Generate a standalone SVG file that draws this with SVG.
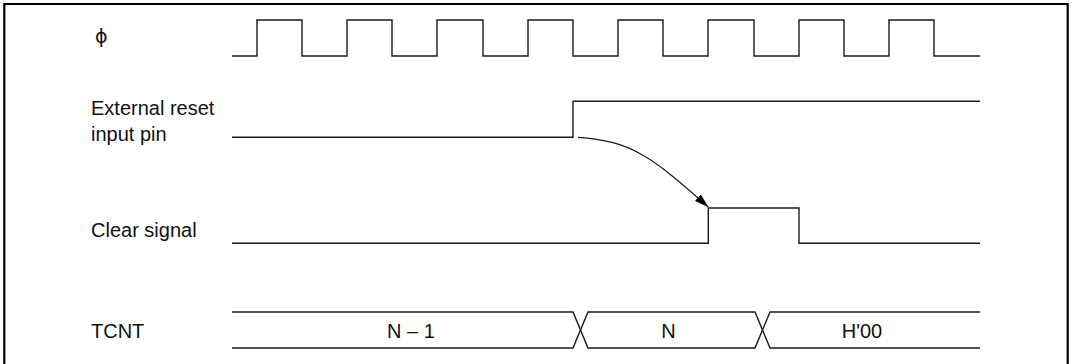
<svg xmlns="http://www.w3.org/2000/svg" width="1074" height="364" viewBox="0 0 1074 364">
<style>
.sig{fill:none;stroke:#1a1a1a;stroke-width:1.4;stroke-linejoin:miter}
.lbl{font-family:"Liberation Sans",Arial,sans-serif;font-size:20px;fill:#111}
.val{font-family:"Liberation Sans",Arial,sans-serif;font-size:20px;fill:#111;text-anchor:middle}
.frame{fill:none;stroke:#000;stroke-width:2.2}
</style>
<defs>
<marker id="arr" viewBox="0 0 14 9" refX="14" refY="4.5" markerWidth="14" markerHeight="9" markerUnits="userSpaceOnUse" orient="auto">
<path d="M0,0 L14,4.5 L0,9 z" fill="#000"/>
</marker>
</defs>
<path class="frame" d="M4.3,364 V4 H1067.7 V364"/>
<g id="clock">
<text x="95" y="43" font-family="'DejaVu Sans','Liberation Sans',sans-serif" font-size="19" fill="#111">ϕ</text>
<path class="sig" d="M232,56 H257 V20 H302 V56 H347 V20 H392 V56 H437 V20 H483 V56 H528 V20 H573 V56 H618 V20 H663 V56 H708 V20 H754 V56 H799 V20 H844 V56 H889 V20 H934 V56 H980"/>
</g>
<g id="reset">
<text class="lbl" x="91" y="115">External reset</text>
<text class="lbl" x="91" y="141">input pin</text>
<path class="sig" d="M232,137.3 H573 V101.3 H980"/>
</g>
<g id="clear">
<text class="lbl" x="91" y="236.7">Clear signal</text>
<path class="sig" d="M232,243.3 H708.3 V208 H799 V243.3 H980"/>
</g>
<g id="tcnt">
<text class="lbl" x="91" y="338.3">TCNT</text>
<path class="sig" d="M232,312 H573 L588,348 H755 L770,312 H980"/>
<path class="sig" d="M232,348 H573 L588,312 H755 L770,348 H980"/>
<text class="val" x="411" y="338.3">N – 1</text>
<text class="val" x="668.5" y="338.3">N</text>
<text class="val" x="862" y="338.3">H'00</text>
</g>
<g id="connectors">
<path d="M578,137.3 C630,141 650,155 708.3,207" fill="none" stroke="#1a1a1a" stroke-width="1.2" marker-end="url(#arr)"/>
</g>
</svg>
